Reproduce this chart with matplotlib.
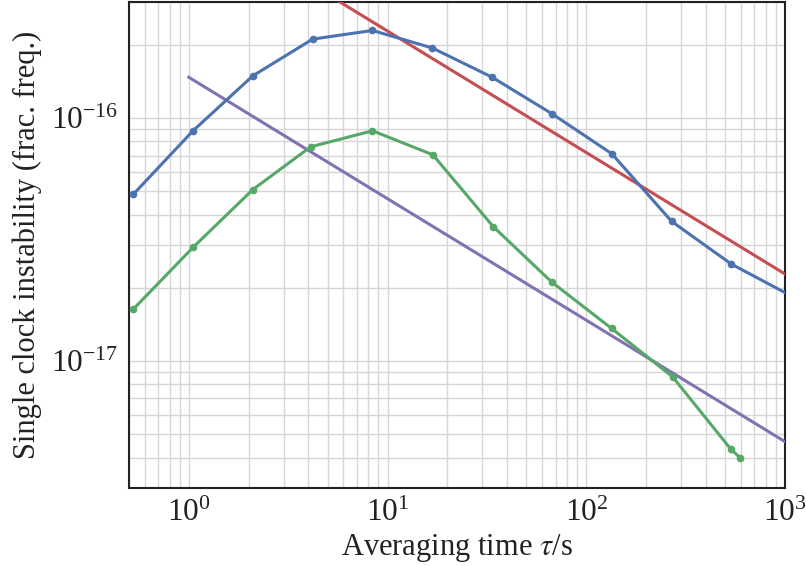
import numpy as np
import matplotlib
matplotlib.use("Agg")
import matplotlib.pyplot as plt
from matplotlib.ticker import LogLocator, NullFormatter

# Averaging times (s) and measured single-clock instabilities
tau_blue = [0.525, 1.05, 2.1, 4.2, 8.4, 16.8, 33.6, 67.2, 134.4, 268.8, 537.6, 1075.2]
sigma_blue = [4.84e-17, 8.85e-17, 1.49e-16, 2.11e-16, 2.29e-16, 1.94e-16,
              1.47e-16, 1.04e-16, 7.12e-17, 3.75e-17, 2.50e-17, 1.85e-17]

tau_green = [0.525, 1.05, 2.1, 4.1, 8.4, 16.9, 34.0, 67.0, 134.0, 272.0, 535.0, 593.0]
sigma_green = [1.63e-17, 2.93e-17, 5.07e-17, 7.60e-17, 8.85e-17, 7.05e-17,
               3.57e-17, 2.11e-17, 1.36e-17, 8.59e-18, 4.32e-18, 4.00e-18]

# White-frequency-noise reference lines: sigma = A / sqrt(tau)
red_coeff = 7.2e-16
red_tau_range = [1.0, 1000.0]
purple_coeff = 1.47e-16
purple_tau_range = [1.0, 1000.0]

plt.rcParams["font.family"] = ["Liberation Serif", "DejaVu Serif"]
plt.rcParams["mathtext.fontset"] = "stix"
plt.rcParams["font.size"] = 22

fig = plt.figure(figsize=(8.06, 5.66), dpi=100)
ax = fig.add_axes([0.160, 0.138, 0.814, 0.8585])

c_blue, c_green, c_red, c_purple = "#4C72B0", "#55A868", "#C44E52", "#8172B2"

t_red = np.logspace(np.log10(red_tau_range[0]), np.log10(red_tau_range[1]), 50)
t_pur = np.logspace(np.log10(purple_tau_range[0]), np.log10(purple_tau_range[1]), 50)
ax.plot(t_red, red_coeff / np.sqrt(t_red), color=c_red, lw=2.2, zorder=3)
ax.plot(t_pur, purple_coeff / np.sqrt(t_pur), color=c_purple, lw=2.2, zorder=3)
ax.plot(tau_blue, sigma_blue, color=c_blue, lw=2.2, marker="o", ms=4.5, zorder=4)
ax.plot(tau_green, sigma_green, color=c_green, lw=2.2, marker="o", ms=4.5, zorder=4)

ax.set_xscale("log")
ax.set_yscale("log")
ax.set_xlim(0.5, 1000)
ax.set_ylim(3e-18, 3e-16)

ax.xaxis.set_major_locator(LogLocator(base=10, numticks=10))
ax.xaxis.set_minor_locator(LogLocator(base=10, subs=np.arange(2, 10), numticks=20))
ax.yaxis.set_major_locator(LogLocator(base=10, numticks=10))
ax.yaxis.set_minor_locator(LogLocator(base=10, subs=np.arange(2, 10), numticks=20))
ax.xaxis.set_minor_formatter(NullFormatter())
ax.yaxis.set_minor_formatter(NullFormatter())

ax.grid(True, which="both", color="#d6d6d6", lw=1.0, zorder=0)
ax.set_axisbelow(True)
ax.tick_params(which="both", length=0, labelsize=22.5, pad=8, colors="#222222")
for s in ax.spines.values():
    s.set_color("#222222")
    s.set_linewidth(1.5)

ax.set_xlabel(r"Averaging time $\tau$/s", fontsize=22, labelpad=3, color="#222222")
ax.set_ylabel("Single clock instability (frac. freq.)", fontsize=22, labelpad=6,
              color="#222222")

fig.savefig("out.png", dpi=100)
